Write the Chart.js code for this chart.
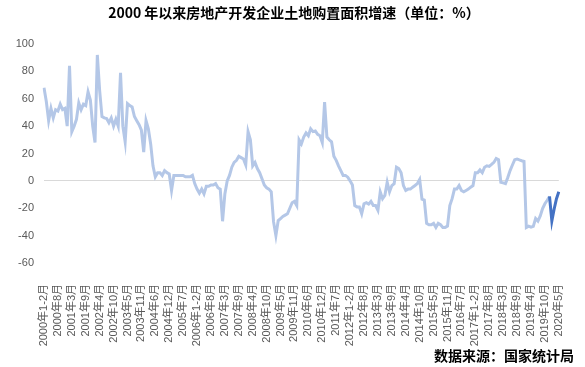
<!DOCTYPE html>
<html>
<head>
<meta charset="utf-8">
<script src="https://cdn.jsdelivr.net/npm/chart.js@4.4.1/dist/chart.umd.min.js"></script>
<style>
  html, body { margin: 0; padding: 0; background: #fff; }
  canvas { display: block; }
</style>
</head>
<body>
<canvas id="myChart" width="585" height="367"></canvas>
<script>
// chart text
const chartTitle = '2000 年以来房地产开发企业土地购置面积增速（单位：%）';
const sourceText = '数据来源：国家统计局';

// categories: cumulative months, Jan and Feb reported together
const years = [2000, 2001, 2002, 2003, 2004, 2005, 2006, 2007, 2008, 2009, 2010,
  2011, 2012, 2013, 2014, 2015, 2016, 2017, 2018, 2019, 2020];
const periods = ['1-2月', '3月', '4月', '5月', '6月', '7月', '8月', '9月', '10月', '11月', '12月'];
const missingMonths = ['2015年12月'];
const lastMonth = '2020年5月';
const labelEvery = 6;

// land purchase area growth, %
const growth2000to2004 = [
  68, 58, 44, 53, 46, 52, 51, 56, 52, 53, 40,
  84, 36, 40, 45, 57, 52, 56, 55, 65, 59, 40,
  28, 92, 66, 47, 46, 45.5, 42.5, 46, 40, 45, 40,
  79, 40, 28.5, 56.5, 55, 54, 47, 44, 41, 37, 21,
  44, 38, 27, 11, 3, 6, 6, 4, 7.5, 6, 5
];
const growth2005to2009 = [
  -7, 4, 4, 4, 4, 4, 3, 3, 3, 4, -2,
  -6, -9, -6, -9.5, -4, -4, -3, -3, -2, -5, -6,
  -29.5, -9.5, 0, 4, 10, 13.5, 15, 18, 17, 16, 11.6,
  36, 30, 11, 13.5, 9, 6, 1.5, -3, -5, -6, -8,
  -30, -40, -29, -27.5, -26, -25, -24, -20, -16, -15, -18
];
const growth2010to2014 = [
  30, 27, 32, 35, 33, 38, 36, 36.5, 34, 33, 28,
  57.5, 32, 30, 28.5, 18, 15, 11, 7.5, 4, 4, 2.7,
  0, -3, -18, -19, -19, -24, -16.7, -16, -17, -15, -18,
  -18, -21.5, -8, -13, -10.6, -1, -8, -3.4, -2, 10, 9,
  6, -3.4, -7, -6, -6, -4.6, -3.4, -2, 1, -13.3, -14
];
const growth2015to2019 = [
  -31, -32, -32, -31, -34, -31, -32, -34, -34, -33,
  -18, -13, -6, -6, -3.4, -7, -8, -7, -6, -4.6, -3.4,
  6, 6, 8, 6, 10, 11, 10.6, 12, 13.5, 16.4, 15.5,
  -1, -1.5, -2, 2.5, 7.5, 11.6, 15.5, 16, 15.3, 14.7, 14.2,
  -34.1, -33.1, -33.8, -33.2, -27.5, -29.4, -25.6, -20.2, -16.7, -14.2, -11.4
];
const growth2020 = [-29.3, -20.5, -13, -8];

const months = [];
for (const y of years) {
  let done = false;
  for (const p of periods) {
    const label = `${y}年${p}`;
    if (missingMonths.includes(label)) continue;
    months.push(label);
    if (label === lastMonth) { done = true; break; }
  }
  if (done) break;
}

const history = [...growth2000to2004, ...growth2005to2009, ...growth2010to2014, ...growth2015to2019];
const lightData = history.concat(growth2020.map(() => null));
const darkData = history.map((v, i) => (i === history.length - 1 ? v : null)).concat(growth2020);

// title on top, source note bottom right
const chartTexts = {
  id: 'chartTexts',
  afterDraw(chart) {
    const ctx = chart.ctx;
    ctx.save();
    ctx.fillStyle = '#000';
    ctx.textBaseline = 'middle';
    ctx.font = 'bold 14px "Noto Sans CJK SC", sans-serif';
    ctx.textAlign = 'center';
    ctx.fillText(chartTitle, 294, 13);
    ctx.textAlign = 'right';
    ctx.fillText(sourceText, 574, 356);
    ctx.restore();
  }
};

Chart.defaults.font.family = '"Liberation Sans", "Noto Sans CJK SC", sans-serif';

const ctx = document.getElementById('myChart').getContext('2d');
const myChart = new Chart(ctx, {
  type: 'line',
  data: {
    labels: months,
    datasets: [{
      data: darkData,
      borderColor: '#4472c4',
      borderWidth: 3,
      pointRadius: 0,
      tension: 0,
      spanGaps: false,
    }, {
      data: lightData,
      borderColor: '#b4c7e7',
      borderWidth: 3,
      pointRadius: 0,
      tension: 0,
      spanGaps: false,
    }]
  },
  options: {
    responsive: false,
    animation: false,
    layout: {
      padding: { top: 44, left: 0, right: 19, bottom: 0 }
    },
    plugins: {
      legend: { display: false },
      tooltip: { enabled: false },
      title: { display: false }
    },
    scales: {
      x: {
        offset: false,
        grid: { display: false },
        border: { display: false },
        ticks: {
          autoSkip: false,
          minRotation: 90,
          maxRotation: 90,
          padding: 13,
          color: '#595959',
          font: { size: 11, family: '"Liberation Sans", "Noto Sans CJK SC", sans-serif' },
          callback: function(value, index) {
            return index % labelEvery === 0 ? this.getLabelForValue(value) : '';
          }
        },
        afterFit: function(scale) {
          scale.height = 104;
        }
      },
      y: {
        min: -60,
        max: 100,
        border: { display: false },
        grid: {
          drawTicks: false,
          color: (c) => (c.tick && c.tick.value === 0 ? '#d9d9d9' : 'rgba(0,0,0,0)')
        },
        ticks: {
          stepSize: 20,
          padding: 10,
          color: '#595959',
          font: { size: 11 }
        },
        afterFit: function(scale) {
          scale.width = 44;
        }
      }
    }
  },
  plugins: [chartTexts]
});
</script>
</body>
</html>
